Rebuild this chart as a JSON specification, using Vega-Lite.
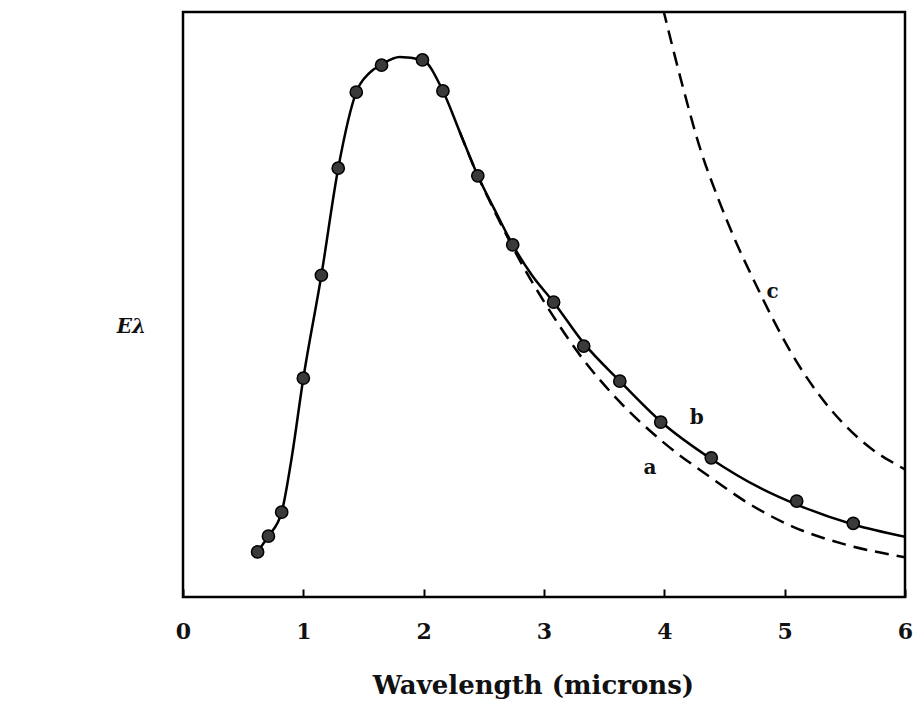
{
  "$schema": "https://vega.github.io/schema/vega-lite/v6.json",
  "width": 722,
  "height": 585,
  "autosize": {"type": "none"},
  "padding": {"left": 183, "top": 12, "right": 8, "bottom": 112},
  "background": "white",
  "config": {
    "view": {"stroke": "black", "strokeWidth": 2.5},
    "font": "DejaVu Serif"
  },
  "datasets": {
    "curves": [
      {"series": "b", "x": 0.6, "y": 7.0},
      {"series": "b", "x": 0.62, "y": 7.7},
      {"series": "b", "x": 0.71, "y": 10.4},
      {"series": "b", "x": 0.82, "y": 14.5},
      {"series": "b", "x": 0.9, "y": 23.4},
      {"series": "b", "x": 1.0, "y": 37.4},
      {"series": "b", "x": 1.15, "y": 55.0},
      {"series": "b", "x": 1.29, "y": 73.3},
      {"series": "b", "x": 1.44, "y": 86.3},
      {"series": "b", "x": 1.55, "y": 89.6},
      {"series": "b", "x": 1.65, "y": 91.0},
      {"series": "b", "x": 1.8, "y": 92.3},
      {"series": "b", "x": 1.99, "y": 91.8},
      {"series": "b", "x": 2.16, "y": 86.5},
      {"series": "b", "x": 2.3, "y": 79.5},
      {"series": "b", "x": 2.45, "y": 72.0},
      {"series": "b", "x": 2.6, "y": 65.8},
      {"series": "b", "x": 2.74, "y": 60.2},
      {"series": "b", "x": 2.9, "y": 55.0},
      {"series": "b", "x": 3.08, "y": 50.4},
      {"series": "b", "x": 3.33, "y": 43.4},
      {"series": "b", "x": 3.63, "y": 36.9},
      {"series": "b", "x": 3.97, "y": 30.0},
      {"series": "b", "x": 4.39, "y": 23.6},
      {"series": "b", "x": 4.8, "y": 18.6},
      {"series": "b", "x": 5.1, "y": 15.8},
      {"series": "b", "x": 5.57, "y": 12.4},
      {"series": "b", "x": 6.0, "y": 10.3},
      {"series": "a", "x": 2.3, "y": 79.5},
      {"series": "a", "x": 2.45, "y": 72.0},
      {"series": "a", "x": 2.6, "y": 65.5},
      {"series": "a", "x": 2.8, "y": 57.5},
      {"series": "a", "x": 3.0, "y": 50.5},
      {"series": "a", "x": 3.33, "y": 40.5},
      {"series": "a", "x": 3.6, "y": 34.0},
      {"series": "a", "x": 4.0, "y": 26.3},
      {"series": "a", "x": 4.38, "y": 20.5},
      {"series": "a", "x": 4.7, "y": 16.0},
      {"series": "a", "x": 5.07, "y": 12.0},
      {"series": "a", "x": 5.5, "y": 9.0},
      {"series": "a", "x": 6.0, "y": 6.8},
      {"series": "c", "x": 3.99, "y": 100.5},
      {"series": "c", "x": 4.15, "y": 87.5},
      {"series": "c", "x": 4.3, "y": 76.5},
      {"series": "c", "x": 4.44, "y": 68.5},
      {"series": "c", "x": 4.61, "y": 60.0},
      {"series": "c", "x": 4.74, "y": 54.3},
      {"series": "c", "x": 4.9, "y": 47.6},
      {"series": "c", "x": 5.05, "y": 41.9},
      {"series": "c", "x": 5.27, "y": 35.0},
      {"series": "c", "x": 5.49, "y": 29.6},
      {"series": "c", "x": 5.71, "y": 25.5},
      {"series": "c", "x": 5.94, "y": 22.5},
      {"series": "c", "x": 6.0, "y": 21.8}
    ],
    "points": [
      {"x": 0.62, "y": 7.7},
      {"x": 0.71, "y": 10.4},
      {"x": 0.82, "y": 14.5},
      {"x": 1.0, "y": 37.4},
      {"x": 1.15, "y": 55.0},
      {"x": 1.29, "y": 73.3},
      {"x": 1.44, "y": 86.3},
      {"x": 1.65, "y": 90.9},
      {"x": 1.99, "y": 91.8},
      {"x": 2.16, "y": 86.5},
      {"x": 2.45, "y": 72.0},
      {"x": 2.74, "y": 60.2},
      {"x": 3.08, "y": 50.4},
      {"x": 3.33, "y": 42.9},
      {"x": 3.63, "y": 36.9},
      {"x": 3.97, "y": 29.9},
      {"x": 4.39, "y": 23.8},
      {"x": 5.1, "y": 16.4},
      {"x": 5.57, "y": 12.6}
    ],
    "labels": [
      {"label": "c", "x": 4.9, "y": 52.1},
      {"label": "b", "x": 4.27, "y": 30.6},
      {"label": "a", "x": 3.88, "y": 22.0}
    ]
  },
  "layer": [
    {
      "data": {"name": "curves"},
      "transform": [{"filter": "datum.series === 'b'"}],
      "mark": {"type": "line", "color": "black", "strokeWidth": 2.5, "interpolate": "monotone", "clip": true},
      "encoding": {
        "x": {
          "field": "x", "type": "quantitative",
          "scale": {"domain": [0, 6], "nice": false},
          "axis": {
            "title": "Wavelength (microns)",
            "titleFont": "DejaVu Serif", "titleFontSize": 26, "titleFontWeight": "bold",
            "titleColor": "#111", "titlePadding": 30, "titleX": 350,
            "values": [0, 1, 2, 3, 4, 5, 6], "format": "d",
            "labelFont": "DejaVu Serif", "labelFontSize": 22, "labelFontWeight": "bold",
            "labelColor": "#111", "labelPadding": 32,
            "domain": false, "grid": false,
            "ticks": true, "tickSize": -8, "tickColor": "black", "tickWidth": 2,
            "labelFlush": false
          }
        },
        "y": {
          "field": "y", "type": "quantitative",
          "scale": {"domain": [0, 100], "nice": false},
          "axis": {
            "title": "Eλ",
            "titleAngle": 0, "titleFont": "DejaVu Serif", "titleFontStyle": "italic",
            "titleFontWeight": "bold", "titleFontSize": 20, "titleColor": "#111",
            "titleX": -52, "titleY": 314, "titleAlign": "center", "titleBaseline": "middle",
            "labels": false, "ticks": false, "domain": false, "grid": false
          }
        },
        "detail": {"field": "series"}
      }
    },
    {
      "data": {"name": "curves"},
      "transform": [{"filter": "datum.series !== 'b'"}],
      "mark": {"type": "line", "color": "black", "strokeWidth": 2.5, "strokeDash": [14, 8], "interpolate": "monotone", "clip": true},
      "encoding": {
        "x": {"field": "x", "type": "quantitative"},
        "y": {"field": "y", "type": "quantitative"},
        "detail": {"field": "series"}
      }
    },
    {
      "data": {"name": "points"},
      "mark": {"type": "point", "filled": true, "size": 150, "color": "#3a3a3a", "stroke": "black", "strokeWidth": 1.5, "opacity": 1},
      "encoding": {
        "x": {"field": "x", "type": "quantitative"},
        "y": {"field": "y", "type": "quantitative"}
      }
    },
    {
      "data": {"name": "labels"},
      "mark": {"type": "text", "font": "DejaVu Serif", "fontSize": 20, "fontWeight": "bold", "color": "#111"},
      "encoding": {
        "x": {"field": "x", "type": "quantitative"},
        "y": {"field": "y", "type": "quantitative"},
        "text": {"field": "label"}
      }
    }
  ]
}
